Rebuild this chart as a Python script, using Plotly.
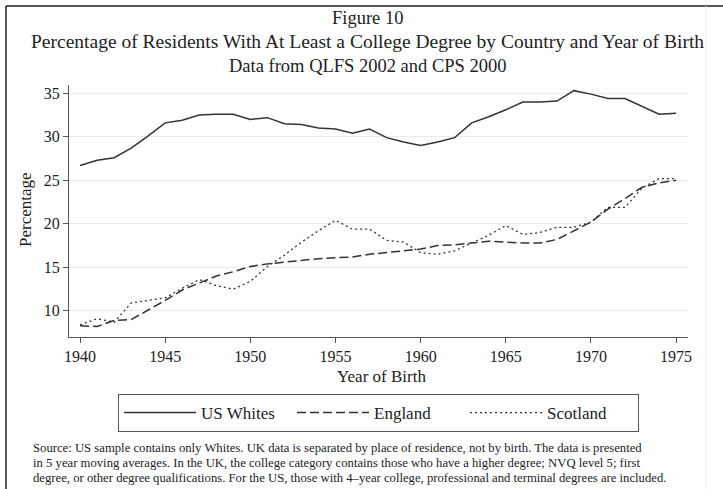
import plotly.graph_objs as go

# data (5 year moving averages)
years = list(range(1940, 1976))
us_whites = [26.7, 27.3, 27.6, 28.7, 30.1, 31.6, 31.9, 32.5, 32.6, 32.6,
             32.0, 32.2, 31.5, 31.4, 31.0, 30.9, 30.4, 30.9, 29.9, 29.4,
             29.0, 29.4, 29.9, 31.6, 32.3, 33.1, 34.0, 34.0, 34.1, 35.3,
             34.9, 34.4, 34.4, 33.5, 32.6, 32.7]
england = [8.3, 8.2, 8.9, 9.0, 10.1, 11.2, 12.4, 13.2, 14.0, 14.5,
           15.1, 15.4, 15.6, 15.8, 16.0, 16.1, 16.2, 16.5, 16.7, 16.9,
           17.1, 17.5, 17.6, 17.8, 18.0, 17.9, 17.8, 17.8, 18.2, 19.2,
           20.2, 21.7, 22.9, 24.2, 24.7, 25.0]
scotland = [8.4, 9.1, 8.7, 10.9, 11.2, 11.5, 12.6, 13.6, 12.9, 12.5,
            13.4, 15.1, 16.4, 17.9, 19.2, 20.4, 19.4, 19.4, 18.1, 17.9,
            16.7, 16.5, 16.9, 17.8, 18.7, 19.8, 18.8, 19.0, 19.6, 19.6,
            20.2, 21.9, 21.9, 24.1, 25.2, 25.2]

x_ticks = [1940, 1945, 1950, 1955, 1960, 1965, 1970, 1975]
y_ticks = [10, 15, 20, 25, 30, 35]

title_lines = [
    "Figure 10",
    "Percentage of Residents With At Least a College Degree by Country and Year of Birth",
    "Data from QLFS 2002 and CPS 2000",
]
note_lines = [
    "Source: US sample contains only Whites. UK data is separated by place of residence, not by birth. The data is presented",
    "in 5 year moving averages. In the UK, the college category contains those who have a higher degree; NVQ level 5; first",
    "degree, or other degree qualifications. For the US, those with 4\u2013year college, professional and terminal degrees are included.",
]

W, H = 723, 489
M = dict(l=69, r=35, t=85, b=152)
FONT = "Liberation Serif, Times New Roman, serif"
INK = "#333333"


# pixel -> paper coordinates (for titles, notes and frame)
def px(x):
    return (x - M["l"]) / (W - M["l"] - M["r"])


def py(y):
    return (H - M["b"] - y) / (H - M["t"] - M["b"])


fig = go.Figure()
fig.add_trace(go.Scatter(x=years, y=us_whites, name="US Whites", mode="lines",
                         line=dict(color=INK, width=1.5, dash="solid")))
fig.add_trace(go.Scatter(x=years, y=england, name="England", mode="lines",
                         line=dict(color=INK, width=1.5, dash="9px,4px")))
fig.add_trace(go.Scatter(x=years, y=scotland, name="Scotland", mode="lines",
                         line=dict(color=INK, width=1.3, dash="2px,3px")))

# titles
title_sizes = [18.5, 19.5, 18.5]
title_y = [18, 42, 66]
for txt, sz, yy in zip(title_lines, title_sizes, title_y):
    fig.add_annotation(text=txt, xref="paper", yref="paper", x=px(W / 2 + 6), y=py(yy),
                       xanchor="center", yanchor="middle", showarrow=False,
                       font=dict(size=sz, family=FONT, color="#222"))

# axis titles
fig.add_annotation(text="Year of Birth", xref="paper", yref="paper", x=px(381), y=py(376),
                   xanchor="center", yanchor="middle", showarrow=False,
                   font=dict(size=17, family=FONT, color="#222"))
fig.add_annotation(text="Percentage", xref="paper", yref="paper", x=px(25), y=py(209),
                   xanchor="center", yanchor="middle", showarrow=False, textangle=-90,
                   font=dict(size=17, family=FONT, color="#222"))

# source note, one line each
for i, txt in enumerate(note_lines):
    fig.add_annotation(text=txt, xref="paper", yref="paper", x=px(31), y=py(448 + 15 * i),
                       xanchor="left", yanchor="middle", align="left", showarrow=False,
                       font=dict(size=12.7, family=FONT, color="#222"))

# outer frame like the scanned page
fig.add_shape(type="line", xref="paper", yref="paper", x0=px(6), x1=px(W), y0=py(6), y1=py(6),
              line=dict(color="#222", width=1.5))
fig.add_shape(type="line", xref="paper", yref="paper", x0=px(6), x1=px(6), y0=py(6), y1=py(H),
              line=dict(color="#222", width=1.5))
fig.add_shape(type="line", xref="paper", yref="paper", x0=px(706), x1=px(706), y0=py(6), y1=py(H),
              line=dict(color="#eeeeee", width=1))

fig.update_layout(
    width=W,
    height=H,
    margin=M,
    plot_bgcolor="white",
    paper_bgcolor="white",
    font=dict(family=FONT, color="#222", size=16),
    showlegend=True,
    legend=dict(
        orientation="h", x=0.5, xanchor="center",
        yref="container", y=1 - 394 / H, yanchor="top",
        bordercolor="#555", borderwidth=1, itemwidth=72, entrywidth=86,
        font=dict(size=17, family=FONT), traceorder="normal",
    ),
    xaxis=dict(
        range=[1939.35, 1975.7], tickvals=x_ticks, ticks="outside", ticklen=5,
        tickcolor="#555", showline=True, linecolor="#555", linewidth=1.2,
        showgrid=False, zeroline=False, tickfont=dict(size=16), automargin=False,
    ),
    yaxis=dict(
        range=[7.0, 35.95], tickvals=y_ticks, ticks="outside", ticklen=5,
        tickcolor="#555", showline=True, linecolor="#555", linewidth=1.2,
        showgrid=True, gridcolor="#eaeaea", zeroline=False, tickfont=dict(size=16),
        automargin=False,
    ),
)

# page has a default 8px body margin; drop it so the figure fills the window
fig.write_html("out.html", config={"displayModeBar": False},
               post_script="document.body.style.margin='0';")
